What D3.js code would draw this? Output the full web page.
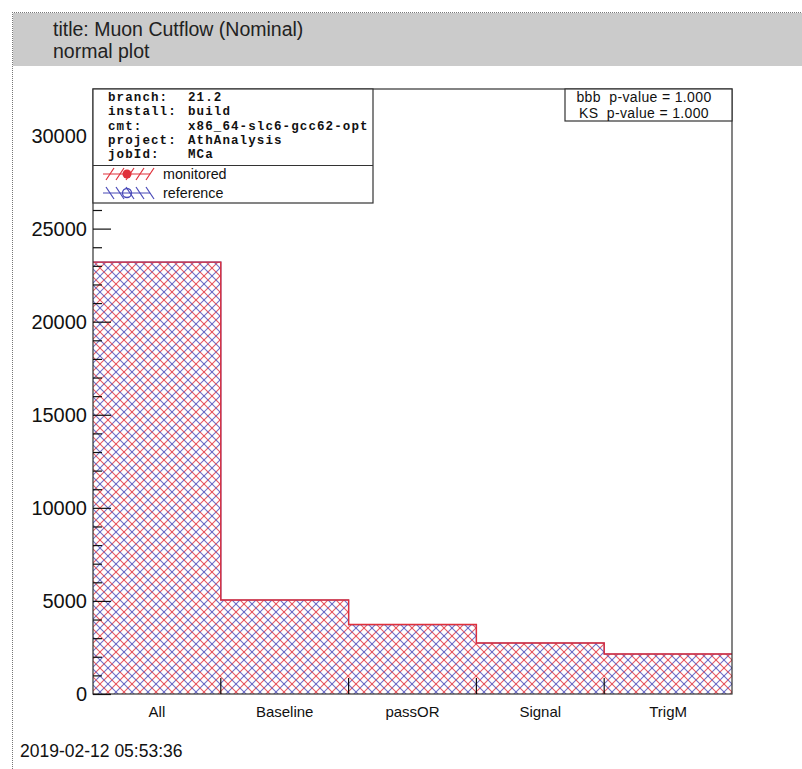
<!DOCTYPE html>
<html>
<head>
<meta charset="utf-8">
<script src="https://cdn.jsdelivr.net/npm/d3@7"></script>
<style>
  html, body { margin: 0; padding: 0; background: #fff; }
  svg { display: block; }
</style>
</head>
<body>
<svg id="chart" width="802" height="769"></svg>
<script>
// Cutflow bins and per-bin event counts
const categories = ["All", "Baseline", "passOR", "Signal", "TrigM"];
const monitored = [23200, 5050, 3730, 2740, 2150];
const reference = [23200, 5050, 3730, 2740, 2150];
const yTicks = [0, 5000, 10000, 15000, 20000, 25000, 30000];
const yMax = 32500;

const infoLines = [
  ["branch:", "21.2"],
  ["install:", "build"],
  ["cmt:", "x86_64-slc6-gcc62-opt"],
  ["project:", "AthAnalysis"],
  ["jobId:", "MCa"]
];
const statLines = ["bbb  p-value = 1.000", "KS  p-value = 1.000"];

(function () {
const svg = d3.select("#chart");
const sans = "'Liberation Sans', Arial, Helvetica, sans-serif";
const mono = "'Liberation Mono', 'Courier New', monospace";

// Canvas frame and title band
svg.append("rect").attr("x", 13).attr("y", 13).attr("width", 789).attr("height", 53)
  .attr("fill", "#cbcbcb");
svg.append("line").attr("x1", 12.5).attr("x2", 12.5).attr("y1", 12).attr("y2", 769)
  .attr("stroke", "#777").attr("stroke-dasharray", "1,1");
svg.append("line").attr("x1", 12).attr("x2", 802).attr("y1", 12.5).attr("y2", 12.5)
  .attr("stroke", "#777").attr("stroke-dasharray", "1,1");
svg.append("text").attr("x", 53).attr("y", 35.5).attr("font-family", sans).attr("font-size", 19.5)
  .attr("fill", "#222").text("title: Muon Cutflow (Nominal)");
svg.append("text").attr("x", 53).attr("y", 58).attr("font-family", sans).attr("font-size", 19.5)
  .attr("fill", "#222").text("normal plot");

// Plot area
const pL = 93, pR = 732, pT = 89, pB = 694;
const x = d3.scaleBand().domain(categories).range([pL, pR]).paddingInner(0).paddingOuter(0);
const y = d3.scaleLinear().domain([0, yMax]).range([pB, pT]);

// Crosshatch fill: red and blue diagonals alternating in both directions
const defs = svg.append("defs");
const pat = defs.append("pattern").attr("id", "hatch").attr("patternUnits", "userSpaceOnUse")
  .attr("width", 16).attr("height", 16);
const red = "#e0303a", blue = "#4a4ab8";
[
  // "/" family
  ["M-2,18 L18,-2", red], ["M-2,2 L2,-2", red], ["M14,18 L18,14", red],
  ["M-2,10 L10,-2", blue], ["M6,18 L18,6", blue],
  // "\" family
  ["M-2,-2 L18,18", blue], ["M-2,14 L2,18", blue], ["M14,-2 L18,2", blue],
  ["M-2,6 L10,18", red], ["M6,-2 L18,10", red]
].forEach(([d, c]) => pat.append("path").attr("d", d).attr("stroke", c)
  .attr("stroke-width", 1.1).attr("fill", "none").attr("opacity", 0.8));

// Step outline of a histogram through the band scale
function stepPoints(vals) {
  const pts = [[x(categories[0]), y(0)]];
  categories.forEach((c, i) => {
    pts.push([x(c), y(vals[i])]);
    pts.push([x(c) + x.bandwidth(), y(vals[i])]);
  });
  pts.push([x(categories[categories.length - 1]) + x.bandwidth(), y(0)]);
  return pts;
}
const line = d3.line();

svg.append("path").attr("d", line(stepPoints(reference)) + "Z").attr("fill", "url(#hatch)");
svg.append("path").attr("d", line(stepPoints(reference).slice(1, -1)))
  .attr("fill", "none").attr("stroke", blue).attr("stroke-width", 1.2);
svg.append("path").attr("d", line(stepPoints(monitored).slice(1, -1)))
  .attr("fill", "none").attr("stroke", red).attr("stroke-width", 1.4);

// Frame
svg.append("rect").attr("x", pL).attr("y", pT).attr("width", pR - pL).attr("height", pB - pT)
  .attr("fill", "none").attr("stroke", "#333").attr("stroke-width", 1.2);

// Y axis: inward ticks, majors every 5000, minors every 1000
const yAxis = d3.axisRight(y).tickValues(yTicks).tickSize(18).tickFormat("");
svg.append("g").attr("transform", `translate(${pL},0)`).call(yAxis)
  .call(g => g.select(".domain").remove())
  .call(g => g.selectAll("line").attr("stroke", "#111").attr("stroke-width", 1.2));
const minorVals = d3.range(1000, yMax, 1000).filter(v => v % 5000 !== 0);
svg.append("g").attr("transform", `translate(${pL},0)`)
  .call(d3.axisRight(y).tickValues(minorVals).tickSize(9).tickFormat(""))
  .call(g => g.select(".domain").remove())
  .call(g => g.selectAll("line").attr("stroke", "#111").attr("stroke-width", 1.2));
svg.append("g").selectAll("text").data(yTicks).join("text")
  .attr("x", 87).attr("y", d => y(d) + 7).attr("text-anchor", "end")
  .attr("font-family", sans).attr("font-size", 20).attr("fill", "#111").text(d => d);

// X axis: ticks at bin edges, labels at bin centres
const edges = categories.slice(1).map(c => x(c));
svg.append("g").selectAll("line").data(edges).join("line")
  .attr("x1", d => d).attr("x2", d => d).attr("y1", pB).attr("y2", pB - 16)
  .attr("stroke", "#111").attr("stroke-width", 1.2);
svg.append("g").selectAll("text").data(categories).join("text")
  .attr("x", d => x(d) + x.bandwidth() / 2).attr("y", 717).attr("text-anchor", "middle")
  .attr("font-family", sans).attr("font-size", 15).attr("fill", "#111").text(d => d);

// Info + legend box
const lg = svg.append("g");
lg.append("rect").attr("x", pL).attr("y", pT).attr("width", 280).attr("height", 114)
  .attr("fill", "#fff").attr("stroke", "#333").attr("stroke-width", 1.2);
lg.append("line").attr("x1", pL).attr("x2", pL + 280).attr("y1", 165.5).attr("y2", 165.5)
  .attr("stroke", "#333").attr("stroke-width", 1.2);
const infoY = [101, 115.3, 129.6, 143.9, 158.2];
infoLines.forEach((l, i) => {
  lg.append("text").attr("x", 108).attr("y", infoY[i]).attr("font-family", mono)
    .attr("font-weight", "bold").attr("font-size", 12.5).attr("letter-spacing", 1.1)
    .attr("fill", "#111").text(l[0]);
  lg.append("text").attr("x", 188).attr("y", infoY[i]).attr("font-family", mono)
    .attr("font-weight", "bold").attr("font-size", 12.5).attr("letter-spacing", 1.1)
    .attr("fill", "#111").text(l[1]);
});
// Legend symbols
function hatchSymbol(cy, color, slant) {
  const g = lg.append("g");
  for (let k = 0; k < 5; k++) {
    const x0 = 106 + k * 10;
    if (slant > 0) g.append("line").attr("x1", x0).attr("y1", cy + 6).attr("x2", x0 + 8).attr("y2", cy - 6);
    else g.append("line").attr("x1", x0).attr("y1", cy - 6).attr("x2", x0 + 8).attr("y2", cy + 6);
  }
  g.append("line").attr("x1", 103).attr("x2", 150).attr("y1", cy).attr("y2", cy);
  g.selectAll("line").attr("stroke", color).attr("stroke-width", 1.2);
  return g;
}
hatchSymbol(174, red, 1).append("circle").attr("cx", 127).attr("cy", 174).attr("r", 4.5).attr("fill", red);
hatchSymbol(193, blue, -1).append("circle").attr("cx", 127).attr("cy", 193).attr("r", 4.5)
  .attr("fill", "none").attr("stroke", blue).attr("stroke-width", 1.3);
lg.append("text").attr("x", 163).attr("y", 179).attr("font-family", sans).attr("font-size", 14.3)
  .attr("fill", "#111").text("monitored");
lg.append("text").attr("x", 163).attr("y", 198).attr("font-family", sans).attr("font-size", 14.3)
  .attr("fill", "#111").text("reference");

// Statistical test box
const sb = svg.append("g");
sb.append("rect").attr("x", 565).attr("y", pT).attr("width", pR - 565).attr("height", 32)
  .attr("fill", "#fff").attr("stroke", "#333").attr("stroke-width", 1.2);
statLines.forEach((t, i) => {
  sb.append("text").attr("x", 644).attr("y", 101.5 + i * 16).attr("text-anchor", "middle")
    .attr("font-family", sans).attr("font-size", 14).attr("letter-spacing", 0.35).attr("fill", "#111")
    .attr("xml:space", "preserve").style("white-space", "pre").text(t);
});

// Timestamp
svg.append("text").attr("x", 20).attr("y", 757).attr("font-family", sans).attr("font-size", 17.5)
  .attr("fill", "#111").text("2019-02-12 05:53:36");
})();
</script>
</body>
</html>
